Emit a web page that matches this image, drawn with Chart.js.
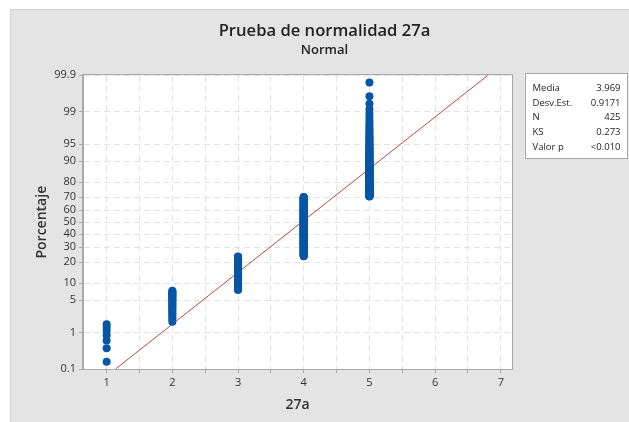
<!DOCTYPE html>
<html>
<head>
<meta charset="utf-8">
<script src="https://cdn.jsdelivr.net/npm/chart.js@4/dist/chart.umd.min.js"></script>
<style>
  html, body { margin: 0; padding: 0; background: #ffffff; }
  #wrap { width: 629px; height: 422px; }
</style>
</head>
<body>
<div id="wrap"><canvas id="c" width="629" height="422"></canvas></div>
<script>
// Responses to item 27a (scale 1-5) and how many answered each value
const categories = [1, 2, 3, 4, 5];
const counts = [7, 25, 68, 199, 126];

// Fitted normal distribution and test summary
const mean = 3.969;
const stdev = 0.9171;
const statLabels = ['Media', 'Desv.Est.', 'N', 'KS', 'Valor p'];
const statValues = ['3.969', '0.9171', '425', '0.273', '<0.010'];

// Axis ticks
const percentTicks = [0.1, 1, 5, 10, 20, 30, 40, 50, 60, 70, 80, 90, 95, 99, 99.9];
const xLabelTicks = [1, 2, 3, 4, 5, 6, 7];
const xGridTicks = [1, 1.5, 2, 2.5, 3, 3.5, 4, 4.5, 5, 5.5, 6, 6.5, 7];

// Inverse of the standard normal CDF (Acklam's rational approximation)
function probit(p) {
  const a = [-3.969683028665376e+01, 2.209460984245205e+02, -2.759285104469687e+02,
             1.383577518672690e+02, -3.066479806614716e+01, 2.506628277459239e+00];
  const b = [-5.447609879822406e+01, 1.615858368580409e+02, -1.556989798598866e+02,
             6.680131188771972e+01, -1.328068155288572e+01];
  const c = [-7.784894002430293e-03, -3.223964580411365e-01, -2.400758277161838e+00,
             -2.549732539343734e+00, 4.374664141464968e+00, 2.938163982698783e+00];
  const d = [7.784695709041462e-03, 3.224671290700398e-01, 2.445134137142996e+00,
             3.754408661907416e+00];
  const pl = 0.02425, ph = 1 - pl;
  let q, r;
  if (p < pl) {
    q = Math.sqrt(-2 * Math.log(p));
    return (((((c[0]*q+c[1])*q+c[2])*q+c[3])*q+c[4])*q+c[5]) /
           ((((d[0]*q+d[1])*q+d[2])*q+d[3])*q+1);
  }
  if (p <= ph) {
    q = p - 0.5; r = q * q;
    return (((((a[0]*r+a[1])*r+a[2])*r+a[3])*r+a[4])*r+a[5])*q /
           (((((b[0]*r+b[1])*r+b[2])*r+b[3])*r+b[4])*r+1);
  }
  q = Math.sqrt(-2 * Math.log(1 - p));
  return -(((((c[0]*q+c[1])*q+c[2])*q+c[3])*q+c[4])*q+c[5]) /
          ((((d[0]*q+d[1])*q+d[2])*q+d[3])*q+1);
}

// Probability-plot positions: each observation at its median rank (i - 0.3) / (N + 0.4)
const total = counts.reduce((s, v) => s + v, 0);
const points = [];
let rank = 0;
categories.forEach((x, k) => {
  for (let j = 0; j < counts[k]; j++) {
    rank++;
    points.push({ x: x, y: probit((rank - 0.3) / (total + 0.4)) });
  }
});

// Vertical axis runs on the normal-score scale between 0.1 % and 99.9 %
const zMin = probit(percentTicks[0] / 100);
const zMax = probit(percentTicks[percentTicks.length - 1] / 100);
const fitLine = [
  { x: mean + stdev * zMin, y: zMin },
  { x: mean + stdev * zMax, y: zMax }
];

const FONT = '"Open Sans", "Noto Sans", "DejaVu Sans", sans-serif';

// Gray panel behind the graph and the frame around the data region
const panelPlugin = {
  id: 'panel',
  beforeDraw(chart) {
    const ctx = chart.ctx;
    ctx.save();
    ctx.fillStyle = '#ffffff';
    ctx.fillRect(0, 0, chart.width, chart.height);
    ctx.fillStyle = '#e4e4e4';
    ctx.fillRect(10, 9, chart.width - 10, chart.height - 9);
    ctx.strokeStyle = '#d2d2d2';
    ctx.lineWidth = 1;
    ctx.beginPath();
    ctx.moveTo(10.5, chart.height);
    ctx.lineTo(10.5, 9.5);
    ctx.lineTo(chart.width, 9.5);
    ctx.stroke();
    const a = chart.chartArea;
    ctx.fillStyle = '#ffffff';
    ctx.fillRect(a.left, a.top, a.right - a.left, a.bottom - a.top);
    ctx.restore();
  },
  afterDatasetsDraw(chart) {
    const ctx = chart.ctx;
    const a = chart.chartArea;
    ctx.save();
    ctx.strokeStyle = '#a9a9a9';
    ctx.lineWidth = 1;
    ctx.strokeRect(Math.round(a.left) - 0.5, Math.round(a.top) - 0.5,
                   Math.round(a.right - a.left) + 1, Math.round(a.bottom - a.top) + 1);
    ctx.restore();
  }
};

// Summary table to the right of the graph
const statsPlugin = {
  id: 'stats',
  afterDraw(chart) {
    const ctx = chart.ctx;
    const a = chart.chartArea;
    const bx = 525.5, by = Math.round(a.top) - 1.5, bw = 102, bh = 85;
    ctx.save();
    ctx.fillStyle = '#ffffff';
    ctx.fillRect(bx, by, bw, bh);
    ctx.strokeStyle = '#a9a9a9';
    ctx.lineWidth = 1;
    ctx.strokeRect(bx, by, bw, bh);
    ctx.fillStyle = '#222222';
    ctx.font = '9.5px ' + FONT;
    ctx.textBaseline = 'middle';
    statLabels.forEach((lab, i) => {
      const y = by + 14.5 + i * 14.8;
      ctx.textAlign = 'left';
      ctx.fillText(lab, bx + 7, y);
      ctx.textAlign = 'right';
      ctx.fillText(statValues[i], bx + bw - 7, y);
    });
    ctx.restore();
  }
};

new Chart(document.getElementById('c'), {
  type: 'scatter',
  data: {
    datasets: [
      {
        label: '27a',
        data: points,
        pointRadius: 4,
        pointHoverRadius: 4,
        pointBackgroundColor: '#0756a6',
        pointBorderColor: '#0756a6',
        pointBorderWidth: 0,
        order: 1
      },
      {
        label: 'Ajuste',
        data: fitLine,
        showLine: true,
        pointRadius: 0,
        borderColor: '#b44a48',
        borderWidth: 1,
        order: 2
      }
    ]
  },
  options: {
    responsive: false,
    animation: false,
    events: [],
    layout: { padding: { top: 10, left: 20, right: 0, bottom: 0 } },
    plugins: {
      legend: { display: false },
      tooltip: { enabled: false },
      title: {
        display: true,
        text: 'Prueba de normalidad 27a',
        color: '#222222',
        font: { family: FONT, size: 16.6, weight: '600' },
        padding: { top: 11.0, bottom: 0 }
      },
      subtitle: {
        display: true,
        text: 'Normal',
        color: '#222222',
        font: { family: FONT, size: 13, weight: '600' },
        padding: { top: 1.6, bottom: 17.2 }
      }
    },
    scales: {
      x: {
        type: 'linear',
        min: 0.64,
        max: 7.17,
        afterBuildTicks(scale) {
          scale.ticks = xGridTicks.map(v => ({ value: v }));
        },
        afterFit(scale) { scale.height = 53; },
        ticks: {
          autoSkip: false,
          maxRotation: 0,
          padding: 3,
          color: '#333333',
          font: { family: FONT, size: 11 },
          callback: (v) => xLabelTicks.includes(v) ? String(v) : ''
        },
        grid: {
          color: '#e2e2e2',
          tickColor: '#a9a9a9',
          tickLength: 4,
          tickBorderDash: []
        },
        border: { display: true, color: '#a9a9a9', dash: [6, 4] },
        title: {
          display: true,
          text: '27a',
          color: '#333333',
          font: { family: FONT, size: 14, weight: '600' },
          padding: { top: 0, bottom: 8.6 }
        }
      },
      y: {
        type: 'linear',
        min: zMin,
        max: zMax,
        afterBuildTicks(scale) {
          scale.ticks = percentTicks.map(p => ({ value: probit(p / 100) }));
        },
        afterFit(scale) { scale.width = 63; },
        ticks: {
          autoSkip: false,
          padding: 3,
          color: '#333333',
          font: { family: FONT, size: 11 },
          callback: (v, i) => String(percentTicks[i])
        },
        grid: {
          color: '#e2e2e2',
          tickColor: '#a9a9a9',
          tickLength: 4,
          tickBorderDash: []
        },
        border: { display: true, color: '#a9a9a9', dash: [6, 4] },
        title: {
          display: true,
          text: 'Porcentaje',
          color: '#333333',
          font: { family: FONT, size: 14, weight: '600' },
          padding: { top: 14, bottom: 0 }
        }
      },
      // empty right-hand strip that holds the summary table
      side: {
        type: 'linear',
        position: 'right',
        display: true,
        afterFit(scale) { scale.width = 117; },
        ticks: { display: false },
        grid: { display: false, drawOnChartArea: false },
        border: { display: false }
      }
    }
  },
  plugins: [panelPlugin, statsPlugin]
});
</script>
</body>
</html>
